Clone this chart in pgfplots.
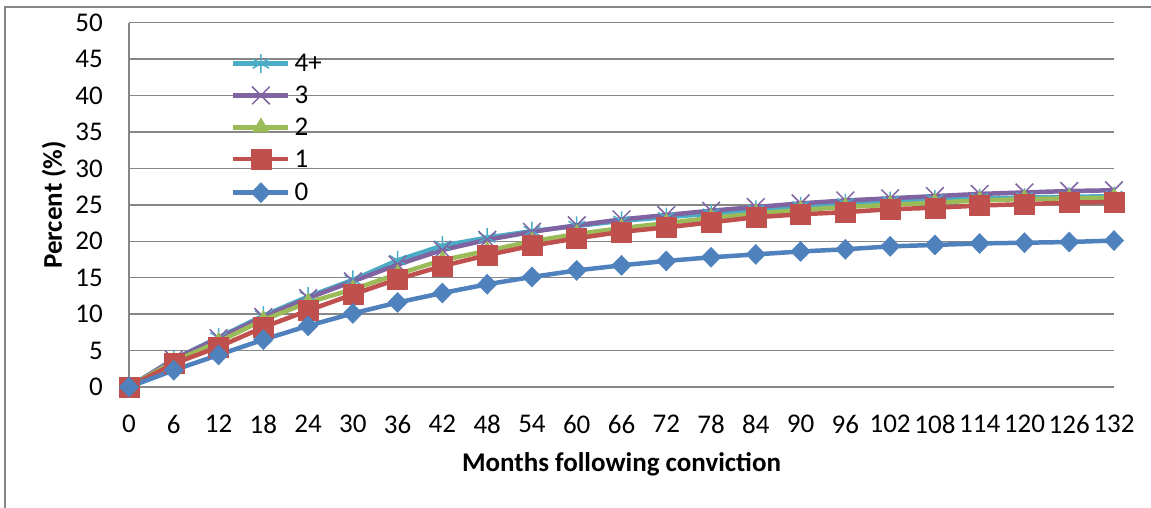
\documentclass[border=0pt]{standalone}
\usepackage{pgfplots}
\pgfplotsset{compat=1.18}
\usepackage{fontspec}
\setmainfont{Carlito}
\definecolor{gridgray}{HTML}{868686}
\definecolor{cZero}{HTML}{4F81BD}
\definecolor{cOne}{HTML}{C0504D}
\definecolor{cTwo}{HTML}{9BBB59}
\definecolor{cThree}{HTML}{8064A2}
\definecolor{cFour}{HTML}{4BACC6}

\pgfplotstableread{
x   s0   s1   s2   s3   s4
0   0    0    0    0    0
6   2.3  3.2  3.5  3.8  3.8
12  4.4  5.5  6.2  6.7  6.8
18  6.5  8.2  9.2  9.6  9.8
24  8.4  10.5 11.6 12.2 12.4
30  10.1 12.7 13.4 14.5 14.7
36  11.6 14.8 15.5 16.8 17.4
42  12.9 16.6 17.4 18.8 19.4
48  14.1 18.1 18.7 20.2 20.5
54  15.1 19.4 20.0 21.3 21.4
60  16.0 20.4 21.0 22.2 22.1
66  16.7 21.3 21.8 23.0 22.8
72  17.3 21.9 22.5 23.6 23.3
78  17.8 22.6 23.2 24.2 23.8
84  18.2 23.3 23.8 24.7 24.3
90  18.6 23.7 24.3 25.2 24.8
96  18.9 24.0 24.7 25.6 25.2
102 19.3 24.4 25.0 25.9 25.5
108 19.5 24.6 25.3 26.2 25.7
114 19.7 24.9 25.6 26.5 25.9
120 19.8 25.1 25.8 26.7 26.0
126 19.9 25.3 25.9 26.9 26.1
132 20.1 25.4 26.0 27.0 26.2
}\datatable

\begin{document}
\fontsize{27bp}{32bp}\selectfont
\begin{tikzpicture}
\path[use as bounding box] (0,0) rectangle (1151bp,508bp);
\draw[gridgray, line width=2bp] (5bp,-5bp) -- (5bp,501bp) -- (1160bp,501bp);
\begin{axis}[
  at={(129bp,121bp)}, anchor=south west,
  scale only axis, width=985bp, height=364.3bp,
  xmin=0, xmax=132, ymin=0, ymax=50,
  xtick={0,6,...,132}, ytick={0,5,...,50},
  axis x line*=bottom, axis y line*=left,
  axis line style={gridgray, line width=1.5bp, -},
  ymajorgrids, grid style={gridgray, line width=1.5bp},
  major tick length=0pt,
  /pgf/number format/assume math mode=true,
  tick label style={font=\fontsize{27bp}{32bp}\selectfont, text=black},
  xticklabel style={yshift=-19bp},
  yticklabel style={xshift=-17bp},
  xlabel={\textbf{Months following conviction}},
  ylabel={\textbf{Percent (\%)}},
  label style={font=\fontsize{27bp}{32bp}\selectfont},
  xlabel style={at={(axis description cs:0.5,0)}, anchor=center, yshift=-77bp},
  ylabel style={at={(axis description cs:0,0.5)}, anchor=center, yshift=75bp},
  legend image code/.code={\draw[mark repeat=2, mark phase=2, #1] plot coordinates {(0bp,0bp) (27.5bp,0bp) (55bp,0bp)};},
  legend style={at={(axis description cs:0.1005,0.92)}, anchor=north west,
    draw=none, fill=none, font=\fontsize{27bp}{32bp}\selectfont,
    nodes={inner sep=0pt, text height=16bp, text depth=0bp},
    row sep=13.6bp, column sep=4bp},
  legend cell align=left,
  every axis plot/.append style={line width=4.5bp},
]
\addplot[cFour, mark=asterisk, mark size=9.5bp, mark options={line width=1.5bp}] table[x=x, y=s4] {\datatable};
\addlegendentry{4+}
\addplot[cThree, mark=x, mark size=12.5bp, mark options={line width=1.5bp}] table[x=x, y=s3] {\datatable};
\addlegendentry{3}
\addplot[cTwo, mark=triangle*, mark size=9.5bp, mark options={line width=0.5bp}] table[x=x, y=s2] {\datatable};
\addlegendentry{2}
\addplot[cOne, mark=square*, mark size=10bp, mark options={line width=0.5bp}] table[x=x, y=s1] {\datatable};
\addlegendentry{1}
\addplot[cZero, mark=diamond*, mark size=10bp, mark options={line width=0.5bp, xscale=1.3}] table[x=x, y=s0] {\datatable};
\addlegendentry{0}
\end{axis}
\end{tikzpicture}
\end{document}
